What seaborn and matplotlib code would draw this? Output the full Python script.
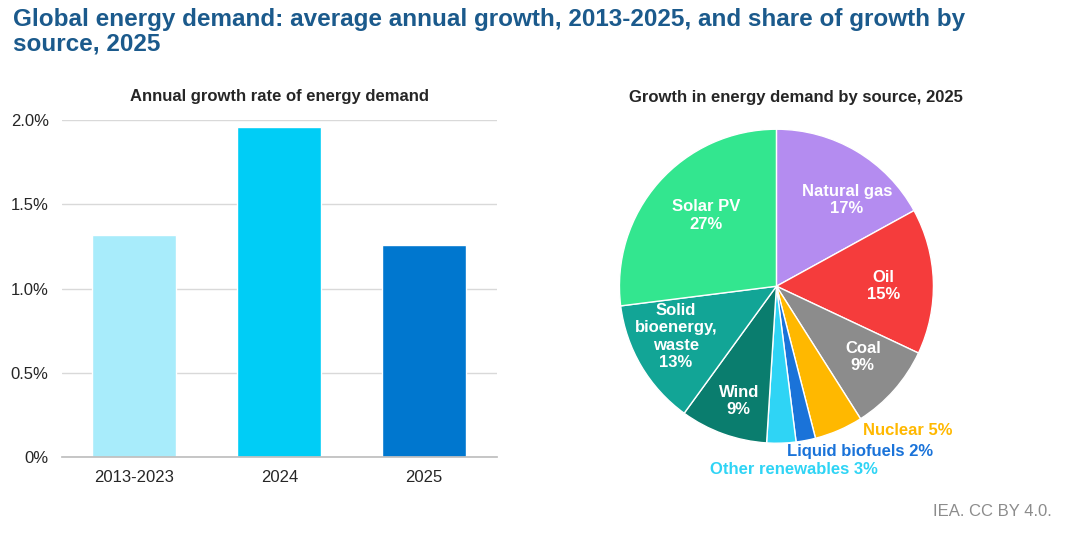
import matplotlib
matplotlib.use("Agg")
import matplotlib.pyplot as plt
import seaborn as sns
import pandas as pd

periods = ["2013-2023", "2024", "2025"]
growth = [1.32, 1.96, 1.26]
bar_colors = ["#a8ecfb", "#00cdf6", "#0077cf"]

sources = ["Natural gas", "Oil", "Coal", "Nuclear", "Liquid biofuels", "Other renewables", "Wind", "Solid\nbioenergy,\nwaste", "Solar PV"]
shares = [17, 15, 9, 5, 2, 3, 9, 13, 27]
pie_colors = ["#b48cf0", "#f53c3c", "#8c8c8c", "#ffb800", "#1a73d9", "#2fd4f5", "#0a7d6e", "#12a596", "#33e68f"]

sns.set_theme(style="white")
plt.rcParams['font.family'] = ['Liberation Sans', 'DejaVu Sans']
fig = plt.figure(figsize=(10.68, 5.38), dpi=100)
fig.text(0.012, 0.985, "Global energy demand: average annual growth, 2013-2025, and share of growth by\nsource, 2025",
         fontsize=17.5, fontweight="bold", color="#1b5a8c", va="top", linespacing=1.1)

ax = fig.add_axes([0.058, 0.15, 0.407, 0.627])
df = pd.DataFrame({"p": periods, "g": growth})
sns.barplot(data=df, x="p", y="g", hue="p", palette=bar_colors, legend=False, width=0.58,
            saturation=1, ax=ax)
ax.set_ylim(0, 2.0)
ax.set_yticks([0, 0.5, 1.0, 1.5, 2.0])
ax.set_yticklabels(["0%", "0.5%", "1.0%", "1.5%", "2.0%"], fontsize=12)
ax.tick_params(axis="x", labelsize=12)
ax.yaxis.grid(True, color="#d9d9d9")
ax.set_axisbelow(True)
ax.set_xlabel(""); ax.set_ylabel("")
for s in ["top", "right", "left"]:
    ax.spines[s].set_visible(False)
ax.spines["bottom"].set_color("#bfbfbf")
ax.set_title("Annual growth rate of energy demand", fontsize=12, fontweight="bold", pad=14)

pax = fig.add_axes([0.58, 0.176, 0.294, 0.584])
wedges, _ = pax.pie(shares, colors=pie_colors, startangle=90, counterclock=False,
                    wedgeprops=dict(edgecolor="white", linewidth=1))
pax.set_xlim(-1, 1); pax.set_ylim(-1, 1)
pax.set_aspect("equal")
fig.text(0.745, 0.81, "Growth in energy demand by source, 2025", fontsize=12, fontweight="bold", ha="center")

inside = {0: (0.45, 0.55), 1: (0.68, 0.0), 2: (0.55, -0.45), 6: (-0.24, -0.73), 7: (-0.64, -0.32), 8: (-0.45, 0.45)}
for i, (x, y) in inside.items():
    pax.text(x, y, f"{sources[i]}\n{shares[i]}%", ha="center", va="center",
             color="white", fontsize=12, fontweight="bold")
pax.text(0.55, -0.92, f"Nuclear {shares[3]}%", color="#ffb800", fontsize=12, fontweight="bold",
         ha="left", va="center", clip_on=False)
pax.text(0.07, -1.05, f"Liquid biofuels {shares[4]}%", color="#1a73d9", fontsize=12, fontweight="bold",
         ha="left", va="center", clip_on=False)
pax.text(-0.42, -1.17, f"Other renewables {shares[5]}%", color="#2fd4f5", fontsize=12, fontweight="bold",
         ha="left", va="center", clip_on=False)

fig.text(0.985, 0.04, "IEA. CC BY 4.0.", fontsize=12, color="#8c8c8c", ha="right")
fig.savefig("out.png", dpi=100)
